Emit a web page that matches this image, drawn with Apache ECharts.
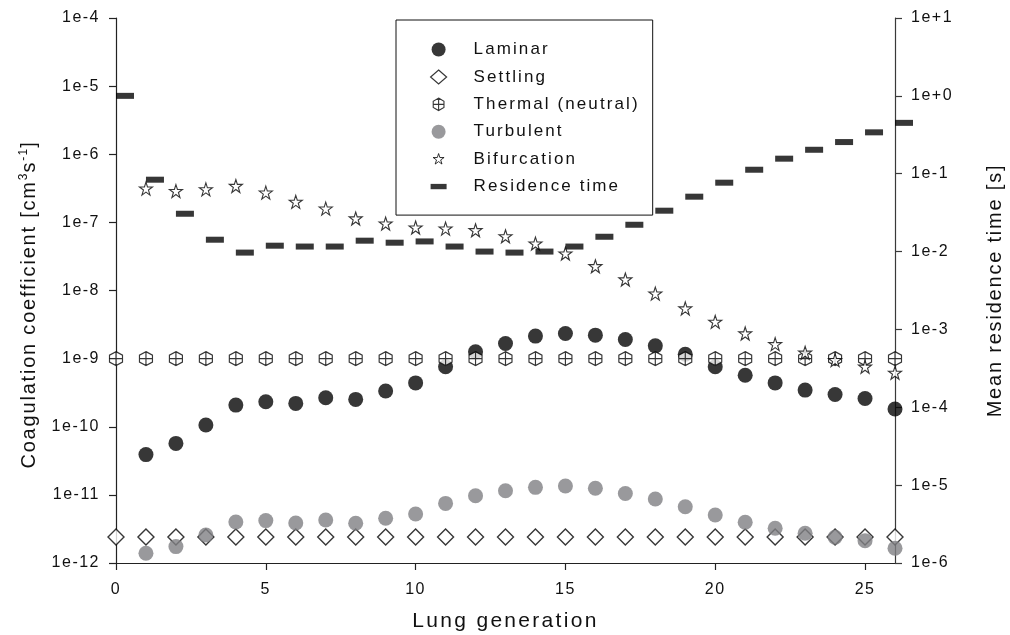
<!DOCTYPE html>
<html>
<head>
<meta charset="utf-8">
<script src="https://cdn.jsdelivr.net/npm/echarts@6/dist/echarts.min.js"></script>
<style>
  html, body { margin: 0; padding: 0; background: #ffffff; }
  #chart { width: 1010px; height: 635px; }
</style>
</head>
<body>
<div id="chart"></div>
<script>
// Lung generation index (x)
const generations = [0, 1, 2, 3, 4, 5, 6, 7, 8, 9, 10, 11, 12, 13, 14, 15, 16, 17, 18, 19, 20, 21, 22, 23, 24, 25, 26];

// Coagulation coefficients [cm^3 s^-1]; null = not defined for that generation
const laminar = [null, 3.9e-11, 5.7e-11, 1.06e-10, 2.08e-10, 2.33e-10, 2.2e-10, 2.66e-10, 2.52e-10, 3.34e-10, 4.4e-10,
  7.6e-10, 1.26e-9, 1.67e-9, 2.14e-9, 2.34e-9, 2.21e-9, 1.91e-9, 1.54e-9, 1.16e-9, 7.6e-10,
  5.7e-10, 4.4e-10, 3.45e-10, 2.98e-10, 2.6e-10, 1.82e-10];
const settling = [2.4e-12, 2.4e-12, 2.4e-12, 2.4e-12, 2.4e-12, 2.4e-12, 2.4e-12, 2.4e-12, 2.4e-12, 2.4e-12, 2.4e-12,
  2.4e-12, 2.4e-12, 2.4e-12, 2.4e-12, 2.4e-12, 2.4e-12, 2.4e-12, 2.4e-12, 2.4e-12, 2.4e-12,
  2.4e-12, 2.4e-12, 2.4e-12, 2.4e-12, 2.4e-12, 2.4e-12];
const thermal = [1e-9, 1e-9, 1e-9, 1e-9, 1e-9, 1e-9, 1e-9, 1e-9, 1e-9, 1e-9, 1e-9,
  1e-9, 1e-9, 1e-9, 1e-9, 1e-9, 1e-9, 1e-9, 1e-9, 1e-9, 1e-9,
  1e-9, 1e-9, 1e-9, 1e-9, 1e-9, 1e-9];
const turbulent = [null, 1.39e-12, 1.74e-12, 2.58e-12, 4.0e-12, 4.19e-12, 3.87e-12, 4.28e-12, 3.83e-12, 4.54e-12, 5.25e-12,
  7.5e-12, 9.7e-12, 1.15e-11, 1.29e-11, 1.35e-11, 1.25e-11, 1.05e-11, 8.7e-12, 6.7e-12, 5.07e-12,
  3.96e-12, 3.23e-12, 2.73e-12, 2.39e-12, 2.13e-12, 1.65e-12];
const bifurcation = [null, 3.13e-7, 2.88e-7, 3.05e-7, 3.42e-7, 2.73e-7, 2.0e-7, 1.59e-7, 1.14e-7, 9.6e-8, 8.4e-8,
  8.1e-8, 7.66e-8, 6.25e-8, 4.89e-8, 3.49e-8, 2.27e-8, 1.45e-8, 9.0e-9, 5.45e-9, 3.47e-9,
  2.34e-9, 1.63e-9, 1.22e-9, 9.5e-10, 7.6e-10, 6.2e-10];

// Mean residence time [s]
const residence = [1.0, 0.0838, 0.0306, 0.0142, 0.0097, 0.0119, 0.0116, 0.0116, 0.0138, 0.013, 0.0135,
  0.0116, 0.01, 0.0097, 0.01, 0.0116, 0.0155, 0.0221, 0.0335, 0.0507, 0.0767,
  0.1125, 0.156, 0.203, 0.255, 0.34, 0.45];

const xTicks = [0, 5, 10, 15, 20, 25];

// Open tracking for chart text, by font size
(function () {
  const tracking = { 16: 1.5, 17: 2.1, 20: 1.8, 21: 2.3 };
  const proto = CanvasRenderingContext2D.prototype;
  ['fillText', 'strokeText', 'measureText'].forEach(function (fn) {
    const base = proto[fn];
    proto[fn] = function () {
      const m = /(\d+(?:\.\d+)?)px/.exec(this.font || '');
      const size = m ? Math.round(parseFloat(m[1])) : 12;
      const t = tracking[size] != null ? tracking[size] : size * 0.09;
      this.letterSpacing = t.toFixed(2) + 'px';
      return base.apply(this, arguments);
    };
  });
})();

function pairs(values) {
  const out = [];
  generations.forEach(function (g, i) {
    if (values[i] != null) out.push([g, values[i]]);
  });
  return out;
}

function expLabel(v, signed) {
  const e = Math.round(Math.log10(v));
  return '1e' + (signed && e >= 0 ? '+' : '') + e;
}

const FONT = "'Liberation Sans', Arial, sans-serif";
const INK = '#111111';
const AXIS = '#222222';
const MARK = '#050505';

const STAR = 'path://M50,2 L61,36 L97,36 L68,57 L79,92 L50,71 L21,92 L32,57 L3,36 L39,36 Z';
const HEX = 'path://M50,0 L93,25 L93,75 L50,100 L7,75 L7,25 Z M50,0 L50,100 M7,50 L93,50';
// legend variants with a little empty margin so they draw smaller in the key
const STAR_KEY = 'path://M-10,-10 M110,110 M50,2 L61,36 L97,36 L68,57 L79,92 L50,71 L21,92 L32,57 L3,36 L39,36 Z';
const HEX_KEY = 'path://M-6,-6 M106,106 M50,0 L93,25 L93,75 L50,100 L7,75 L7,25 Z M50,0 L50,100 M7,50 L93,50';
const DASH = 'path://M0,0 L30,0 L30,10 L0,10 Z';

const chart = echarts.init(document.getElementById('chart'), null, { renderer: 'canvas' });

chart.setOption({
  backgroundColor: '#ffffff',
  textStyle: { fontFamily: FONT, color: INK },
  animation: false,
  grid: { left: 116, right: 115, top: 18, bottom: 72, containLabel: false, outerBoundsMode: 'none' },
  legend: {
    left: 396,
    top: 20,
    orient: 'vertical',
    padding: [20, 13, 19, 34],
    itemWidth: 16,
    itemHeight: 14,
    itemGap: 8.3,
    borderColor: INK,
    borderWidth: 1,
    textStyle: { fontFamily: FONT, fontSize: 17, color: INK, padding: [0, 0, 0, 22] },
    data: [
      { name: 'Laminar' },
      { name: 'Settling', itemStyle: { borderWidth: 1.2 } },
      { name: 'Thermal (neutral)', icon: HEX_KEY, itemStyle: { borderWidth: 1.1 } },
      { name: 'Turbulent' },
      { name: 'Bifurcation', icon: STAR_KEY, itemStyle: { borderWidth: 1.0 } },
      { name: 'Residence time', icon: DASH }
    ]
  },
  xAxis: {
    type: 'value',
    min: 0,
    max: 26,
    interval: 5,
    name: 'Lung generation',
    nameLocation: 'middle',
    nameGap: 47,
    nameTextStyle: { fontFamily: FONT, fontSize: 21, color: INK },
    axisLine: { show: true, onZero: false, lineStyle: { color: AXIS, width: 1.2 } },
    axisTick: { show: true, length: 7, customValues: xTicks, lineStyle: { color: AXIS, width: 1.2 } },
    axisLabel: { customValues: xTicks, margin: 18, fontFamily: FONT, fontSize: 16, color: INK },
    splitLine: { show: false }
  },
  yAxis: [
    {
      type: 'log',
      logBase: 10,
      min: 1e-12,
      max: 1e-4,
      interval: 1,
      position: 'left',
      name: 'Coagulation coefficient [cm{sup|3}s{sup|-1}]',
      nameLocation: 'middle',
      nameRotate: 90,
      nameGap: 73,
      nameTextStyle: {
        fontFamily: FONT, fontSize: 20, color: INK, padding: [0, 28, 0, 0],
        rich: { sup: { fontFamily: FONT, fontSize: 12, color: INK, padding: [0, 0, 12, 0] } }
      },
      axisLine: { show: true, lineStyle: { color: AXIS, width: 1.2 } },
      axisTick: { show: true, length: 7, lineStyle: { color: AXIS, width: 1.2 } },
      axisLabel: {
        margin: 16, fontFamily: FONT, fontSize: 16, color: INK,
        formatter: function (v) { return expLabel(v, false); }
      },
      minorTick: { show: false },
      splitLine: { show: false }
    },
    {
      type: 'log',
      logBase: 10,
      min: 1e-6,
      max: 10,
      interval: 1,
      position: 'right',
      name: 'Mean residence time [s]',
      nameLocation: 'middle',
      nameRotate: 90,
      nameGap: 90,
      nameTextStyle: { fontFamily: FONT, fontSize: 20, color: INK },
      axisLine: { show: true, lineStyle: { color: '#3a3a3a', width: 1.2 } },
      axisTick: { show: true, length: 7, lineStyle: { color: '#3a3a3a', width: 1.2 } },
      axisLabel: {
        margin: 16, fontFamily: FONT, fontSize: 16, color: INK,
        formatter: function (v) { return expLabel(v, true); }
      },
      minorTick: { show: false },
      splitLine: { show: false }
    }
  ],
  series: [
    {
      name: 'Laminar', type: 'scatter', yAxisIndex: 0, clip: false,
      symbol: 'circle', symbolSize: 15,
      itemStyle: { color: MARK },
      data: pairs(laminar)
    },
    {
      name: 'Settling', type: 'scatter', yAxisIndex: 0, clip: false,
      symbol: 'diamond', symbolSize: 16,
      itemStyle: { color: '#ffffff', borderColor: MARK, borderWidth: 1.4 },
      data: pairs(settling)
    },
    {
      name: 'Thermal (neutral)', type: 'scatter', yAxisIndex: 0, clip: false,
      symbol: HEX, symbolSize: [13, 14],
      itemStyle: { color: '#ffffff', borderColor: MARK, borderWidth: 1.2 },
      data: pairs(thermal)
    },
    {
      name: 'Turbulent', type: 'scatter', yAxisIndex: 0, clip: false,
      symbol: 'circle', symbolSize: 15,
      itemStyle: { color: '#7f8083' },
      data: pairs(turbulent)
    },
    {
      name: 'Bifurcation', type: 'scatter', yAxisIndex: 0, clip: false,
      symbol: STAR, symbolSize: 13,
      itemStyle: { color: '#ffffff', borderColor: MARK, borderWidth: 1.1 },
      data: pairs(bifurcation)
    },
    {
      name: 'Residence time', type: 'scatter', yAxisIndex: 1, clip: false,
      symbol: 'rect', symbolSize: [18, 6], symbolOffset: [9, 0],
      itemStyle: { color: MARK },
      data: pairs(residence)
    }
  ]
});
</script>
</body>
</html>
